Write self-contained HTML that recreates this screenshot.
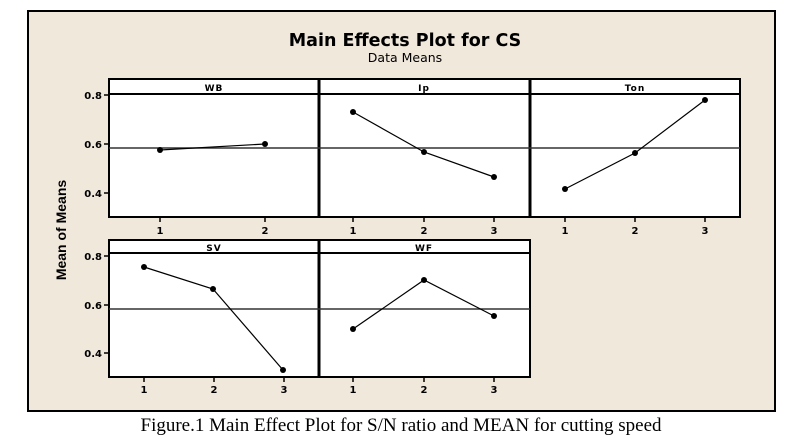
<!DOCTYPE html>
<html><head><meta charset="utf-8"><style>
html,body{margin:0;padding:0;background:#fff;width:795px;height:446px;overflow:hidden}
svg{display:block}
</style></head><body>
<svg width="795" height="446" xmlns="http://www.w3.org/2000/svg" font-family="'DejaVu Sans','Liberation Sans',sans-serif">
<rect x="28" y="11" width="747" height="400" fill="#f1e8dc" stroke="#000" stroke-width="2"/>
<text x="405" y="46" text-anchor="middle" font-size="17.5" font-weight="bold">Main Effects Plot for CS</text>
<text x="405" y="62" text-anchor="middle" font-size="12.5">Data Means</text>
<text transform="translate(66,230) rotate(-90)" text-anchor="middle" font-size="14" font-weight="bold" font-family="'Liberation Sans',sans-serif">Mean of Means</text>
<g fill="#fff" stroke="#000" stroke-width="2">
<rect x="109" y="79" width="631" height="138"/>
<rect x="109" y="240" width="421" height="137"/>
</g>
<g stroke="#000" stroke-width="2">
<line x1="109" y1="94" x2="740" y2="94"/>
<line x1="319" y1="79" x2="319" y2="217" stroke-width="3"/>
<line x1="530" y1="79" x2="530" y2="217" stroke-width="3"/>
<line x1="109" y1="253" x2="530" y2="253"/>
<line x1="319" y1="240" x2="319" y2="377" stroke-width="3"/>
</g>
<g stroke="#333" stroke-width="1.5">
<line x1="109" y1="148" x2="740" y2="148"/>
<line x1="109" y1="309" x2="530" y2="309"/>
</g>
<g font-size="9" text-anchor="middle" letter-spacing="1" font-weight="bold">
<text x="214" y="91">WB</text><text x="424" y="91">Ip</text><text x="635" y="91">Ton</text>
<text x="214" y="251">SV</text><text x="424" y="251">WF</text>
</g>
<g stroke="#000" stroke-width="1.5">
<line x1="104" y1="95" x2="109" y2="95"/><line x1="104" y1="144" x2="109" y2="144"/><line x1="104" y1="193" x2="109" y2="193"/>
<line x1="104" y1="256" x2="109" y2="256"/><line x1="104" y1="305" x2="109" y2="305"/><line x1="104" y1="353" x2="109" y2="353"/>
<line x1="160" y1="217" x2="160" y2="222"/><line x1="265" y1="217" x2="265" y2="222"/>
<line x1="353" y1="217" x2="353" y2="222"/><line x1="424" y1="217" x2="424" y2="222"/><line x1="494" y1="217" x2="494" y2="222"/>
<line x1="565" y1="217" x2="565" y2="222"/><line x1="635" y1="217" x2="635" y2="222"/><line x1="705" y1="217" x2="705" y2="222"/>
<line x1="144" y1="377" x2="144" y2="382"/><line x1="214" y1="377" x2="214" y2="382"/><line x1="284" y1="377" x2="284" y2="382"/>
<line x1="353" y1="377" x2="353" y2="382"/><line x1="424" y1="377" x2="424" y2="382"/><line x1="494" y1="377" x2="494" y2="382"/>
</g>
<g font-size="10" text-anchor="end" font-weight="bold">
<text x="102" y="99">0.8</text><text x="102" y="148">0.6</text><text x="102" y="197">0.4</text>
<text x="102" y="260">0.8</text><text x="102" y="309">0.6</text><text x="102" y="357">0.4</text>
</g>
<g font-size="10" text-anchor="middle" font-weight="bold">
<text x="160" y="234">1</text><text x="265" y="234">2</text>
<text x="353" y="234">1</text><text x="424" y="234">2</text><text x="494" y="234">3</text>
<text x="565" y="234">1</text><text x="635" y="234">2</text><text x="705" y="234">3</text>
<text x="144" y="393">1</text><text x="214" y="393">2</text><text x="284" y="393">3</text>
<text x="353" y="393">1</text><text x="424" y="393">2</text><text x="494" y="393">3</text>
</g>
<g fill="none" stroke="#000" stroke-width="1.2">
<polyline points="160,150 265,144"/>
<polyline points="353,112 424,152 494,177"/>
<polyline points="565,189 635,153 705,100"/>
<polyline points="144,267 213,289 283,370"/>
<polyline points="353,329 424,280 494,316"/>
</g>
<g fill="#000">
<circle cx="160" cy="150" r="3"/><circle cx="265" cy="144" r="3"/>
<circle cx="353" cy="112" r="3"/><circle cx="424" cy="152" r="3"/><circle cx="494" cy="177" r="3"/>
<circle cx="565" cy="189" r="3"/><circle cx="635" cy="153" r="3"/><circle cx="705" cy="100" r="3"/>
<circle cx="144" cy="267" r="3"/><circle cx="213" cy="289" r="3"/><circle cx="283" cy="370" r="3"/>
<circle cx="353" cy="329" r="3"/><circle cx="424" cy="280" r="3"/><circle cx="494" cy="316" r="3"/>
</g>
<text x="401" y="431" text-anchor="middle" font-size="19" font-family="'Liberation Serif',serif">Figure.1 Main Effect Plot for S/N ratio and MEAN for cutting speed</text>
</svg>
</body></html>
